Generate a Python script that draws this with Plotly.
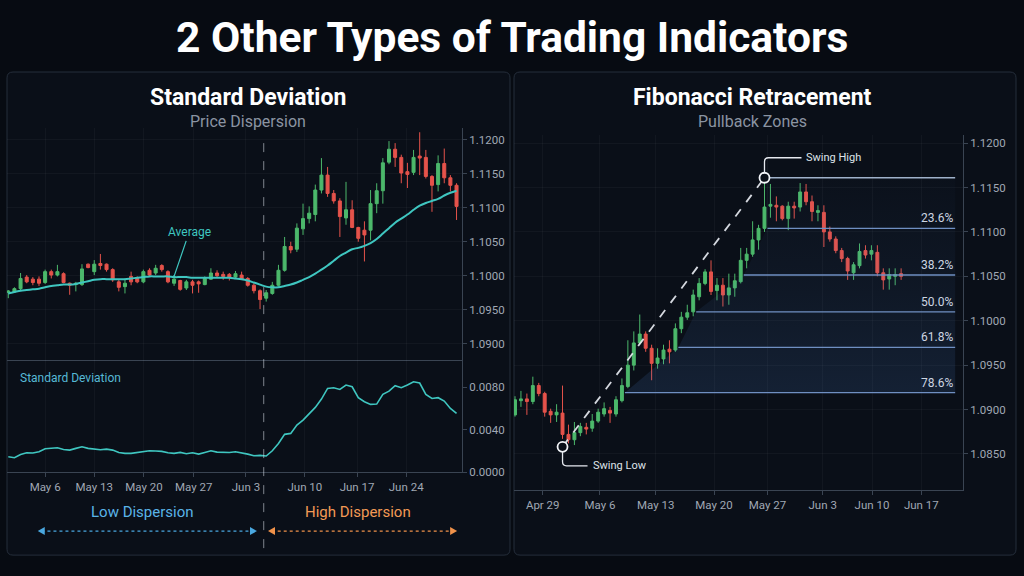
import plotly.graph_objects as go

W, H = 1024, 576
YK = 1.0125  # vertical calibration of pixel guides to the rendered page
FONT = "Roboto, 'Open Sans', Arial, sans-serif"
BG = "#070b12"
PANEL = "#0a0f18"
BORDER = "#252e3b"
GREEN = "#4cb86b"
RED = "#e5534b"
TEAL = "#3fc6c0"
AXIS = "#3a4452"
TICK = "#a0a8b4"
GRID = "rgba(255,255,255,0.035)"

# ---------------- Left panel: Standard Deviation ----------------
left_open = [1.09755, 1.0976, 1.0981, 1.0998, 1.0995, 1.0995, 1.0990, 1.1006, 1.1001, 1.1003,
             1.0989, 1.0987, 1.0987, 1.1017, 1.1006, 1.1018, 1.1017, 1.1009, 1.0991, 1.0984,
             1.0999, 1.0996, 1.0991, 1.1008, 1.1004, 1.1015, 1.1006, 1.0989, 1.0993, 1.0982,
             1.0991, 1.0991, 1.0987, 1.0995, 1.1004, 1.1002, 1.1002, 1.0998, 1.1001, 1.0996,
             1.0986, 1.0978, 1.0967, 1.0974, 1.0986, 1.1008, 1.1043, 1.1039, 1.1069, 1.1084,
             1.1090, 1.1126, 1.1148, 1.1121, 1.1110, 1.1085, 1.1097, 1.1071, 1.1067, 1.1067,
             1.1106, 1.1125, 1.1167, 1.1186, 1.1174, 1.1153, 1.1152, 1.1176, 1.1174, 1.1146,
             1.1134, 1.1165, 1.1144, 1.1133]
left_high = [1.0979, 1.0983, 1.1004, 1.1001, 1.0998, 1.0999, 1.1009, 1.1009, 1.1016, 1.1005,
             1.0990, 1.0991, 1.1017, 1.1018, 1.1023, 1.1032, 1.1018, 1.1011, 1.0994, 1.0996,
             1.1006, 1.0999, 1.1009, 1.1011, 1.1016, 1.1017, 1.1008, 1.0998, 1.0994, 1.0994,
             1.0994, 1.0993, 1.0999, 1.1011, 1.1008, 1.1006, 1.1004, 1.1007, 1.1006, 1.0998,
             1.0989, 1.0980, 1.0979, 1.0991, 1.1016, 1.1057, 1.1050, 1.1077, 1.1106, 1.1102,
             1.1134, 1.1173, 1.1160, 1.1126, 1.1114, 1.1138, 1.1111, 1.1072, 1.1080, 1.1126,
             1.1136, 1.1173, 1.1198, 1.1195, 1.1178, 1.1166, 1.1185, 1.1211, 1.1185, 1.1148,
             1.1177, 1.1187, 1.1148, 1.1136]
left_low = [1.0967, 1.0975, 1.0979, 1.0989, 1.0986, 1.0985, 1.0988, 1.0996, 1.0999, 1.0989,
            1.0972, 1.0977, 1.0985, 1.1011, 1.1001, 1.1009, 1.1006, 1.0991, 1.0977, 1.0974,
            1.0986, 1.0989, 1.0989, 1.0999, 1.1001, 1.1006, 1.0989, 1.0985, 1.0978, 1.0979,
            1.0974, 1.0975, 1.0986, 1.0994, 1.0998, 1.0994, 1.0993, 1.0995, 1.0994, 1.0984,
            1.0974, 1.0951, 1.0962, 1.0972, 1.0984, 1.1006, 1.1033, 1.1035, 1.1060, 1.1077,
            1.1080, 1.1121, 1.1116, 1.1106, 1.1057, 1.1075, 1.1070, 1.1050, 1.1021, 1.1052,
            1.1092, 1.1106, 1.1164, 1.1160, 1.1136, 1.1129, 1.1148, 1.1148, 1.1143, 1.1094,
            1.1124, 1.1136, 1.1124, 1.1082]
left_close = [1.09775, 1.0981, 1.0996, 1.0991, 1.0990, 1.0989, 1.1006, 1.1001, 1.1006, 1.0990,
              1.0986, 1.0989, 1.1010, 1.1012, 1.1017, 1.1015, 1.1009, 1.0994, 1.0983, 1.0989,
              1.0991, 1.0991, 1.1006, 1.1001, 1.1011, 1.1009, 1.0991, 1.0995, 1.0980, 1.0991,
              1.0986, 1.0988, 1.0996, 1.1004, 1.1000, 1.0999, 1.0998, 1.1003, 1.0995, 1.0986,
              1.0978, 1.0965, 1.0975, 1.0986, 1.1008, 1.1043, 1.1038, 1.1070, 1.1084, 1.1092,
              1.1126, 1.1148, 1.1121, 1.1110, 1.1087, 1.1097, 1.1071, 1.1055, 1.1060, 1.1106,
              1.1125, 1.1166, 1.1186, 1.1174, 1.1151, 1.1149, 1.1174, 1.1173, 1.1146, 1.1133,
              1.1165, 1.1144, 1.1133, 1.1102]
left_avg = [1.0974, 1.0976, 1.0978, 1.0979, 1.0980, 1.0981, 1.0983, 1.0985, 1.0986, 1.0987,
            1.0987, 1.0988, 1.0990, 1.0992, 1.0994, 1.0995, 1.0995, 1.0995, 1.0995, 1.0995,
            1.0996, 1.0997, 1.0998, 1.0999, 1.0999, 1.0999, 1.0999, 1.0998, 1.0998, 1.0998,
            1.0997, 1.0997, 1.0997, 1.0997, 1.0997, 1.0997, 1.0997, 1.0996, 1.0995, 1.0993,
            1.0990, 1.0987, 1.0984, 1.0983, 1.0983, 1.0985, 1.0987, 1.0990, 1.0994, 1.0998,
            1.1003, 1.1009, 1.1015, 1.1022, 1.1029, 1.1034, 1.1039, 1.1041, 1.1044, 1.1048,
            1.1054, 1.1062, 1.1070, 1.1078, 1.1084, 1.1090, 1.1097, 1.1103, 1.1107, 1.1110,
            1.1113, 1.1118, 1.1122, 1.1125]
left_std = [0.00144, 0.00135, 0.00166, 0.00182, 0.00179, 0.00191, 0.00220, 0.00226, 0.00229, 0.00213,
            0.00207, 0.00223, 0.00238, 0.00223, 0.00220, 0.00210, 0.00216, 0.00207, 0.00185, 0.00176,
            0.00176, 0.00185, 0.00195, 0.00201, 0.00198, 0.00195, 0.00182, 0.00176, 0.00185, 0.00173,
            0.00182, 0.00169, 0.00185, 0.00201, 0.00188, 0.00185, 0.00185, 0.00191, 0.00182, 0.00169,
            0.00154, 0.00157, 0.00151, 0.00201, 0.00270, 0.00355, 0.00364, 0.00442, 0.00489, 0.00552,
            0.00609, 0.00687, 0.00787, 0.00794, 0.00778, 0.00819, 0.00803, 0.00700, 0.00662, 0.00637,
            0.00640, 0.00731, 0.00762, 0.00813, 0.00794, 0.00819, 0.00850, 0.00838, 0.00731, 0.00693,
            0.00700, 0.00668, 0.00599, 0.00552]
left_tick_idx = [6, 14, 22.1, 30.2, 38.7, 48.3, 56.8, 64.8]
left_tick_text = ["May 6", "May 13", "May 20", "May 27", "Jun 3", "Jun 10", "Jun 17", "Jun 24"]
left_price_ticks = [1.0900, 1.0950, 1.1000, 1.1050, 1.1100, 1.1150, 1.1200]
left_std_ticks = [0.0, 0.004, 0.008]
regime_split_idx = 41.6
low_span = (4.8, 40.5)
high_span = (42.3, 73.1)
regime_labels = ["Low Dispersion", "High Dispersion"]
regime_label_idx = [21.8, 56.9]

# ---------------- Right panel: Fibonacci Retracement ----------------
right_open = [1.0894, 1.0910, 1.0912, 1.0909, 1.0927, 1.0918, 1.0898, 1.0894, 1.0896, 1.0872,
              1.0866, 1.0874, 1.0880, 1.0879, 1.0887, 1.0895, 1.0899, 1.0895, 1.0910, 1.0926,
              1.0950, 1.0975, 1.0985, 1.0969, 1.0952, 1.0957, 1.0968, 1.0967, 1.0991, 1.1004,
              1.1010, 1.1027, 1.1042, 1.1055, 1.1034, 1.1040, 1.1029, 1.1037, 1.1044, 1.1068,
              1.1075, 1.1091, 1.1104, 1.1129, 1.1130, 1.1129, 1.1115, 1.1129, 1.1128, 1.1145,
              1.1134, 1.1122, 1.1122, 1.1100, 1.1092, 1.1079, 1.1070, 1.1054, 1.1062, 1.1079,
              1.1075, 1.1077, 1.1054, 1.1047, 1.1050, 1.1053]
right_high = [1.0915, 1.0921, 1.0918, 1.0937, 1.0930, 1.0920, 1.0901, 1.0906, 1.0927, 1.0883,
              1.0886, 1.0885, 1.0885, 1.0895, 1.0901, 1.0908, 1.0903, 1.0915, 1.0935, 1.0978,
              1.0988, 1.1007, 1.0988, 1.0973, 1.0969, 1.0973, 1.0978, 1.0997, 1.1010, 1.1018,
              1.1035, 1.1048, 1.1058, 1.1068, 1.1048, 1.1048, 1.1053, 1.1053, 1.1082, 1.1082,
              1.1112, 1.1108, 1.1158, 1.1154, 1.1140, 1.1130, 1.1134, 1.1134, 1.1155, 1.1154,
              1.1141, 1.1130, 1.1130, 1.1106, 1.1095, 1.1082, 1.1072, 1.1066, 1.1087, 1.1085,
              1.1085, 1.1085, 1.1059, 1.1059, 1.1059, 1.1059]
right_low = [1.0892, 1.0903, 1.0894, 1.0906, 1.0915, 1.0892, 1.0885, 1.0886, 1.0867, 1.0862,
             1.0860, 1.0870, 1.0872, 1.0875, 1.0885, 1.0892, 1.0885, 1.0892, 1.0908, 1.0924,
             1.0944, 1.0973, 1.0965, 1.0933, 1.0946, 1.0951, 1.0952, 1.0965, 1.0986, 1.1001,
             1.1005, 1.1023, 1.1040, 1.1029, 1.1023, 1.1016, 1.1018, 1.1027, 1.1042, 1.1059,
             1.1072, 1.1080, 1.1100, 1.1116, 1.1112, 1.1113, 1.1102, 1.1115, 1.1123, 1.1130,
             1.1112, 1.1112, 1.1083, 1.1089, 1.1076, 1.1066, 1.1046, 1.1046, 1.1059, 1.1070,
             1.1068, 1.1050, 1.1035, 1.1035, 1.1040, 1.1046]
right_close = [1.0911, 1.0912, 1.0909, 1.0927, 1.0918, 1.0897, 1.0894, 1.0897, 1.0872, 1.0866,
               1.0874, 1.0881, 1.0878, 1.0887, 1.0897, 1.0901, 1.0896, 1.0911, 1.0927, 1.0950,
               1.0975, 1.0985, 1.0969, 1.0952, 1.0958, 1.0967, 1.0965, 1.0991, 1.1004, 1.1009,
               1.1029, 1.1042, 1.1055, 1.1033, 1.1040, 1.1029, 1.1037, 1.1045, 1.1068, 1.1075,
               1.1091, 1.1104, 1.1128, 1.1131, 1.1128, 1.1115, 1.1129, 1.1127, 1.1145, 1.1134,
               1.1123, 1.1124, 1.1100, 1.1092, 1.1079, 1.1070, 1.1056, 1.1063, 1.1078, 1.1074,
               1.1079, 1.1054, 1.1046, 1.1052, 1.1052, 1.1050]
right_tick_idx = [4.66, 14.3, 23.7, 33.5, 42.5, 51.8, 60.1, 68.4]
right_tick_text = ["Apr 29", "May 6", "May 13", "May 20", "May 27", "Jun 3", "Jun 10", "Jun 17"]
right_price_ticks = [1.0850, 1.0900, 1.0950, 1.1000, 1.1050, 1.1100, 1.1150, 1.1200]
swing_low = (8, 1.0858)
swing_high = (42, 1.1161)
fib_labels = ["23.6%", "38.2%", "50.0%", "61.8%", "78.6%"]
fib_prices = [1.1104, 1.10515, 1.1010, 1.0970, 1.0919]
fib_end_idx = 74.1

# ---------------- helpers ----------------
def px(xp):
    return xp / W

def py(yp):
    return max(0.0, 1 - yp * YK / H)

def rounded_rect(x0, y0, x1, y1, r):
    rx, ry = r / W, r / H
    X0, X1, Y0, Y1 = px(x0), px(x1), py(y0), py(y1)
    return (f"M {X0+rx},{Y0} L {X1-rx},{Y0} Q {X1},{Y0} {X1},{Y0-ry} "
            f"L {X1},{Y1+ry} Q {X1},{Y1} {X1-rx},{Y1} L {X0+rx},{Y1} "
            f"Q {X0},{Y1} {X0},{Y1+ry} L {X0},{Y0-ry} Q {X0},{Y0} {X0+rx},{Y0} Z")

fig = go.Figure()

def candles(o, h, l, c, xa, ya):
    return go.Candlestick(
        x=list(range(len(o))), open=o, high=h, low=l, close=c,
        xaxis=xa, yaxis=ya, whiskerwidth=0, showlegend=False, hoverinfo="skip",
        increasing=dict(line=dict(color=GREEN, width=1), fillcolor=GREEN),
        decreasing=dict(line=dict(color=RED, width=1), fillcolor=RED),
    )

# left panel traces
n_left = len(left_open)
fig.add_trace(candles(left_open, left_high, left_low, left_close, "x", "y"))
fig.add_trace(go.Scatter(x=list(range(n_left)), y=left_avg, mode="lines", xaxis="x", yaxis="y",
                         line=dict(color=TEAL, width=2, shape="spline"), showlegend=False, hoverinfo="skip"))
fig.add_trace(go.Scatter(x=list(range(n_left)), y=left_std, mode="lines", xaxis="x2", yaxis="y2",
                         line=dict(color=TEAL, width=1.6), showlegend=False, hoverinfo="skip"))

# right panel: fib levels start where price held above the level up to swing high
lo_i, hi_i = swing_low[0], swing_high[0]
starts = []
for lvl in fib_prices:
    s = hi_i + 1
    for j in range(hi_i, lo_i - 1, -1):
        if right_low[j] >= lvl:
            s = j
        else:
            break
    starts.append(s - 0.5)

poly_x = [fib_end_idx, swing_high[0]] + starts + [fib_end_idx]
poly_y = [swing_high[1], swing_high[1]] + fib_prices + [fib_prices[-1]]
fig.add_trace(go.Scatter(
    x=poly_x, y=poly_y, mode="lines", fill="toself", xaxis="x3", yaxis="y3",
    line=dict(width=0, color="rgba(0,0,0,0)"),
    fillgradient=dict(type="vertical", start=fib_prices[-1], stop=swing_high[1],
                      colorscale=[[0, "rgba(70,120,190,0.17)"], [0.5, "rgba(70,120,190,0.08)"],
                                  [1, "rgba(70,120,190,0.02)"]]),
    showlegend=False, hoverinfo="skip"))

fig.add_trace(go.Scatter(x=[swing_high[0], fib_end_idx], y=[swing_high[1], swing_high[1]], mode="lines",
                         xaxis="x3", yaxis="y3", line=dict(color="#9fb1ca", width=1.3),
                         showlegend=False, hoverinfo="skip"))
lx, ly = [], []
for s, lvl in zip(starts, fib_prices):
    lx += [s, fib_end_idx, None]
    ly += [lvl, lvl, None]
fig.add_trace(go.Scatter(x=lx, y=ly, mode="lines", xaxis="x3", yaxis="y3",
                         line=dict(color="#6f8fc2", width=1.4), showlegend=False, hoverinfo="skip"))

fig.add_trace(candles(right_open, right_high, right_low, right_close, "x3", "y3"))

fig.add_trace(go.Scatter(x=[swing_low[0], swing_high[0]], y=[swing_low[1], swing_high[1]],
                         mode="lines", xaxis="x3", yaxis="y3",
                         line=dict(color="rgba(235,238,245,0.9)", width=1.8, dash="dash"),
                         showlegend=False, hoverinfo="skip"))
fig.add_trace(go.Scatter(x=[swing_low[0], swing_high[0]], y=[swing_low[1], swing_high[1]],
                         mode="markers", xaxis="x3", yaxis="y3",
                         marker=dict(size=10, color=PANEL, line=dict(color="#f2f4f8", width=1.8)),
                         showlegend=False, hoverinfo="skip"))

shapes = []
# page panels
shapes.append(dict(type="path", xref="paper", yref="paper", path=rounded_rect(7, 72, 510, 555, 6),
                   line=dict(color=BORDER, width=1), fillcolor=PANEL, layer="below"))
shapes.append(dict(type="path", xref="paper", yref="paper", path=rounded_rect(514, 72, 1016, 555, 6),
                   line=dict(color=BORDER, width=1), fillcolor=PANEL, layer="below"))
# regime split
shapes.append(dict(type="line", xref="x", yref="paper", x0=regime_split_idx, x1=regime_split_idx,
                   y0=py(548), y1=py(137), line=dict(color="rgba(225,230,238,0.55)", width=1, dash="dash")))
# dispersion arrows
for (a, b), col in [(low_span, "#4aa8e0"), (high_span, "#f0924a")]:
    shapes.append(dict(type="line", xref="x", yref="paper", x0=a + 0.6, x1=b - 0.6, y0=py(531), y1=py(531),
                       line=dict(color=col, width=1.4, dash="dot")))
    shapes.append(dict(type="path", xref="x", yref="paper", xsizemode="pixel", ysizemode="pixel",
                       xanchor=a, yanchor=py(531), path="M 0 0 L 7 4 L 7 -4 Z",
                       fillcolor=col, line=dict(color=col, width=0)))
    shapes.append(dict(type="path", xref="x", yref="paper", xsizemode="pixel", ysizemode="pixel",
                       xanchor=b, yanchor=py(531), path="M 0 0 L -7 4 L -7 -4 Z",
                       fillcolor=col, line=dict(color=col, width=0)))
# swing connectors
shapes.append(dict(type="path", xref="x3", yref="y3", xsizemode="pixel", ysizemode="pixel",
                   xanchor=swing_high[0], yanchor=swing_high[1],
                   path="M 0 5 L 0 16 Q 0 20 4 20 L 37 20", line=dict(color="#e6e9ef", width=1.3)))
shapes.append(dict(type="path", xref="x3", yref="y3", xsizemode="pixel", ysizemode="pixel",
                   xanchor=swing_low[0], yanchor=swing_low[1],
                   path="M 0 -5 L 0 -15 Q 0 -19 4 -19 L 25 -19", line=dict(color="#e6e9ef", width=1.3)))

ann = []
ann.append(dict(text="<b>2 Other Types of Trading Indicators</b>", x=0.5, y=py(37), xref="paper", yref="paper",
                showarrow=False, font=dict(family=FONT, size=42.5, color="#ffffff"), xanchor="center", yanchor="middle"))
for cx, t, s in [(248, "Standard Deviation", "Price Dispersion"), (752, "Fibonacci Retracement", "Pullback Zones")]:
    ann.append(dict(text=f"<b>{t}</b>", x=px(cx), y=py(97), xref="paper", yref="paper", showarrow=False,
                    font=dict(family=FONT, size=23, color="#ffffff"), xanchor="center", yanchor="middle"))
    ann.append(dict(text=s, x=px(cx), y=py(121), xref="paper", yref="paper", showarrow=False,
                    font=dict(family=FONT, size=16, color="#8a94a2"), xanchor="center", yanchor="middle"))
ann.append(dict(text="Average", x=27, y=left_avg[27] + 0.0001, xref="x", yref="y", ax=15, ay=-44,
                showarrow=True, arrowhead=6, arrowsize=0.5, arrowwidth=1.2, arrowcolor=TEAL,
                font=dict(family=FONT, size=12, color=TEAL)))
ann.append(dict(text="Standard Deviation", x=px(18), y=py(378), xref="paper", yref="paper", showarrow=False,
                xanchor="left", yanchor="middle", font=dict(family=FONT, size=12, color="#56b9d6")))
for t, xi, col in zip(regime_labels, regime_label_idx, ["#5ab4e8", "#f39a55"]):
    ann.append(dict(text=t, x=xi, y=py(512), xref="x", yref="paper", showarrow=False,
                    xanchor="center", yanchor="middle", font=dict(family=FONT, size=15, color=col)))
ann.append(dict(text="Swing High", x=swing_high[0], y=swing_high[1], xref="x3", yref="y3", showarrow=False,
                xanchor="left", yanchor="middle", xshift=40, yshift=20,
                font=dict(family=FONT, size=11, color="#dfe3ea")))
ann.append(dict(text="Swing Low", x=swing_low[0], y=swing_low[1], xref="x3", yref="y3", showarrow=False,
                xanchor="left", yanchor="middle", xshift=28, yshift=-19,
                font=dict(family=FONT, size=11, color="#dfe3ea")))
for lbl, lvl in zip(fib_labels, fib_prices):
    ann.append(dict(text=lbl, x=fib_end_idx, y=lvl, xref="x3", yref="y3", showarrow=False,
                    xanchor="right", yanchor="bottom", yshift=1,
                    font=dict(family=FONT, size=12, color="#cdd6e2")))

tickfont = dict(family=FONT, size=11.5, color=TICK)
xr_left = [-0.21, 73.89]
xr_right = [-0.17, 75.42]

fig.update_layout(
    width=W, height=H, autosize=False, margin=dict(l=0, r=0, t=0, b=0, pad=0),
    paper_bgcolor=BG, plot_bgcolor="rgba(0,0,0,0)",
    font=dict(family=FONT),
    shapes=shapes, annotations=ann, showlegend=False,
    xaxis=dict(domain=[px(7), px(462)], anchor="y", range=xr_left, showticklabels=False, ticks="",
               showline=True, linecolor=AXIS, linewidth=1, showgrid=True, gridcolor=GRID,
               tickvals=left_tick_idx, zeroline=False, rangeslider=dict(visible=False), fixedrange=True),
    yaxis=dict(domain=[py(360), py(128)], anchor="x", side="right", range=[1.08760, 1.12172],
               tickvals=left_price_ticks, tickformat=".4f", ticks="outside", ticklen=4, tickcolor=AXIS,
               showline=True, linecolor=AXIS, showgrid=True, gridcolor=GRID, zeroline=False,
               tickfont=tickfont),
    xaxis2=dict(domain=[px(7), px(462)], anchor="y2", range=xr_left, tickvals=left_tick_idx,
                ticktext=left_tick_text, ticks="outside", ticklen=4, tickcolor=AXIS, showline=True,
                linecolor=AXIS, showgrid=True, gridcolor=GRID, zeroline=False, tickfont=tickfont),
    yaxis2=dict(domain=[py(472), py(360)], anchor="x2", side="right", range=[0, 0.01054],
                tickvals=left_std_ticks, tickformat=".4f", ticks="outside", ticklen=4, tickcolor=AXIS,
                showline=True, linecolor=AXIS, showgrid=False, zeroline=False, tickfont=tickfont),
    xaxis3=dict(domain=[px(514), px(963)], anchor="y3", range=xr_right, tickvals=right_tick_idx,
                ticktext=right_tick_text, ticks="outside", ticklen=4, tickcolor=AXIS, showline=True,
                linecolor=AXIS, showgrid=True, gridcolor=GRID, zeroline=False, tickfont=tickfont,
                rangeslider=dict(visible=False)),
    yaxis3=dict(domain=[py(490), py(135)], anchor="x3", side="right", range=[1.08093, 1.12091],
                tickvals=right_price_ticks, tickformat=".4f", ticks="outside", ticklen=4, tickcolor=AXIS,
                showline=True, linecolor=AXIS, showgrid=True, gridcolor=GRID, zeroline=False,
                tickfont=tickfont),
)

fig.write_html("out.html", config={"responsive": False})
